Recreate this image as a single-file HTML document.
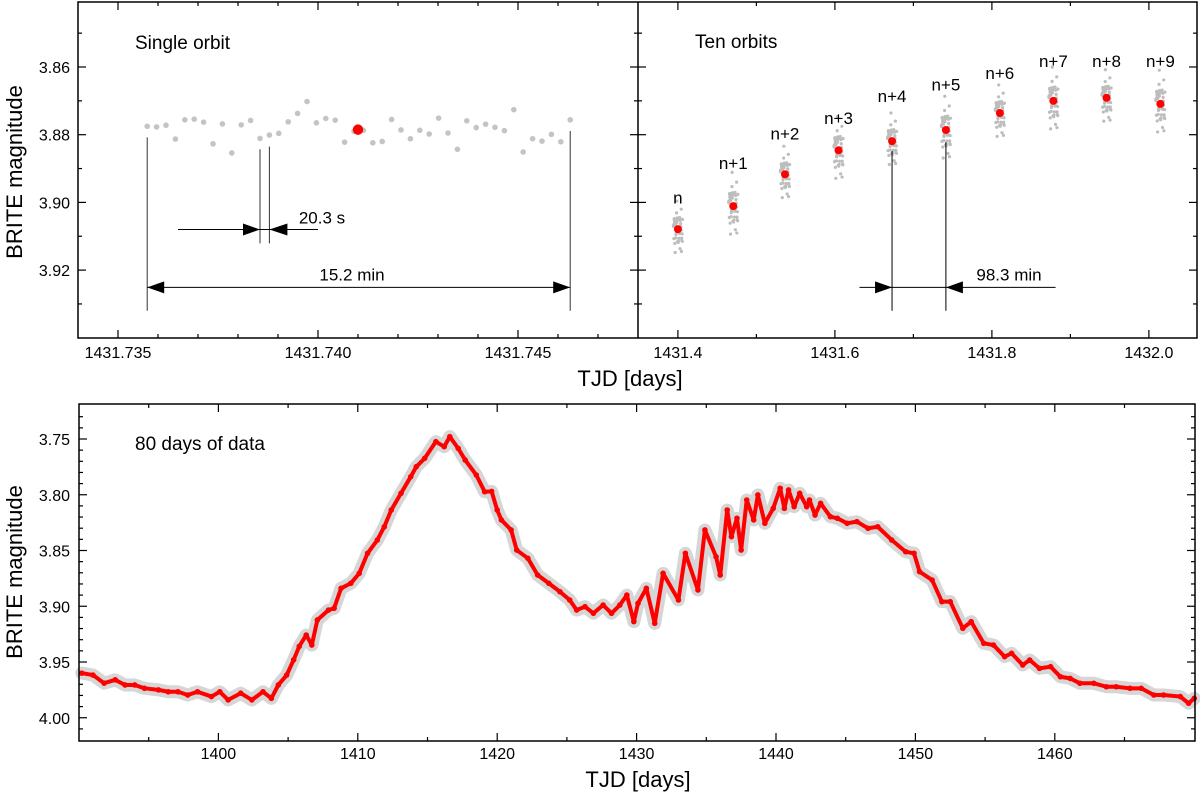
<!DOCTYPE html>
<html><head><meta charset="utf-8"><style>
html,body{margin:0;padding:0;background:#fff;}
svg{display:block;font-family:"Liberation Sans",Arial,sans-serif;}
</style></head><body>
<svg id="chart" width="1200" height="796" viewBox="0 0 1200 796" xmlns="http://www.w3.org/2000/svg">
<g id="layer"></g>
</svg>
<script>
// ---- single-orbit data (top-left) ----
const orbitT0 = 1431.73573;
const orbitStep = 0.000235;
const orbitMags = [3.8775,3.8777,3.8772,3.8813,3.8756,3.8754,3.8763,3.8827,3.8768,3.8854,3.8771,3.8758,3.8811,3.8801,3.8796,3.8762,3.8737,3.8702,3.8765,3.8752,3.8757,3.8822,3.8790,3.8787,3.8824,3.8820,3.8755,3.8786,3.8812,3.8787,3.8798,3.8751,3.8795,3.8843,3.8759,3.8779,3.8769,3.8778,3.8788,3.8726,3.8851,3.8812,3.8819,3.8799,3.8821,3.8756];
const orbitMeanT = 1431.7410;
const orbitMeanMag = 3.8785;
// ---- ten orbits (top-right) ----
const tenLabels = ["n","n+1","n+2","n+3","n+4","n+5","n+6","n+7","n+8","n+9"];
const tenTimes = [1431.4000,1431.4705,1431.5364,1431.6046,1431.6728,1431.7414,1431.8101,1431.8783,1431.9460,1432.0146];
const tenMeans = [3.9079,3.9011,3.8917,3.8846,3.8819,3.8786,3.8736,3.8700,3.8691,3.8709];
const tenLabelMags = [3.8985,3.8883,3.8797,3.8751,3.8685,3.8652,3.8618,3.8583,3.8583,3.8583];
// ---- 80 days (bottom) ----
const days = [1390.2,1391.0,1391.8,1392.6,1393.3,1394.0,1394.7,1395.7,1396.4,1397.1,1397.8,1398.5,1399.5,1400.1,1400.7,1401.6,1402.4,1403.2,1403.8,1404.3,1404.9,1405.4,1405.8,1406.3,1406.7,1407.1,1407.9,1408.3,1408.8,1409.5,1410.1,1410.7,1411.4,1411.9,1412.4,1413.1,1413.8,1414.2,1414.8,1415.6,1416.2,1416.6,1417.2,1417.7,1418.5,1419.1,1419.6,1420.0,1420.3,1421.0,1421.4,1422.2,1422.9,1423.7,1424.5,1425.2,1425.7,1426.3,1426.9,1427.6,1428.2,1428.8,1429.3,1429.8,1430.1,1430.7,1431.3,1431.9,1433.0,1433.5,1434.4,1434.9,1435.7,1436.0,1436.5,1436.8,1437.2,1437.5,1437.9,1438.4,1438.7,1439.2,1439.8,1440.3,1440.6,1440.9,1441.3,1441.7,1442.2,1442.4,1442.8,1443.2,1443.9,1444.4,1445.1,1445.8,1446.6,1447.3,1448.3,1449.3,1449.9,1450.3,1451.2,1451.9,1452.5,1453.4,1454.0,1454.9,1455.6,1456.4,1456.9,1457.7,1458.2,1458.9,1459.7,1460.4,1461.1,1461.8,1462.8,1463.7,1464.4,1465.4,1466.2,1467.1,1467.8,1469.0,1469.6,1470.0];
const mags = [3.960,3.9617,3.969,3.966,3.9706,3.9706,3.9736,3.975,3.9767,3.9767,3.9796,3.9767,3.981,3.9767,3.984,3.978,3.984,3.9767,3.9826,3.9706,3.9617,3.948,3.936,3.9258,3.9348,3.9123,3.9034,3.9018,3.8839,3.8794,3.8705,3.8525,3.8406,3.8287,3.8137,3.7987,3.7838,3.7748,3.7673,3.7524,3.7569,3.7479,3.7584,3.7688,3.7823,3.7973,3.797,3.8137,3.8226,3.8316,3.8496,3.857,3.872,3.8794,3.887,3.8944,3.9034,3.9004,3.9063,3.8989,3.9063,3.8989,3.890,3.9138,3.8974,3.8839,3.9153,3.8705,3.8944,3.8525,3.8854,3.8316,3.8556,3.872,3.8137,3.8376,3.8211,3.8496,3.8047,3.8226,3.8002,3.8256,3.8122,3.7942,3.8122,3.7957,3.8107,3.7987,3.8107,3.8047,3.8182,3.8077,3.8197,3.8211,3.8256,3.8241,3.8301,3.8287,3.8406,3.8511,3.8525,3.8690,3.8765,3.8959,3.8959,3.9198,3.9138,3.9332,3.9348,3.9452,3.9422,3.9527,3.9482,3.9557,3.9542,3.9632,3.9647,3.9691,3.9691,3.9722,3.9722,3.9736,3.9736,3.9796,3.9796,3.981,3.987,3.9826];
const topYTicks = ["3.86","3.88","3.90","3.92"];
const tlXTicks = ["1431.735","1431.740","1431.745"];
const trXTicks = ["1431.4","1431.6","1431.8","1432.0"];
const botYTicks = ["3.75","3.80","3.85","3.90","3.95","4.00"];
const botXTicks = ["1400","1410","1420","1430","1440","1450","1460"];

const NS="http://www.w3.org/2000/svg";
const root=document.getElementById('layer');
function mk(tag,attrs,parent,text){const e=document.createElementNS(NS,tag);for(const k in attrs)e.setAttribute(k,attrs[k]);if(text!==undefined)e.textContent=text;(parent||root).appendChild(e);return e;}

const xTL=t=>78+(t-1431.734)*40000;
const xTR=t=>677.9+(t-1431.4)*785;
const yT=m=>67+(m-3.86)*3385;
const xB=d=>79+(d-1390)*13.94;
const yB=m=>439+(m-3.75)*1115;
const TOP=2,TBOT=338,BTOP=404,BBOT=741,L=78,MID=638,R=1197,BR=1195;

function line(x1,y1,x2,y2,w,parent,col){return mk('line',{x1,y1,x2,y2,stroke:col||'#000','stroke-width':w||1},parent);}

const gTL=mk('g',{});


const gTR=mk('g',{});


const gB=mk('g',{});



for(let i=0;i<=9;i++){
  const m=3.84+i*0.01; const y=yT(m); if(y<TOP+2||y>TBOT-2) continue;
  const major=(Math.round(m*100)%2===0); const len=major?8:4;
  line(L,y,L+len,y,1.2,gTL); line(MID-len,y,MID+len,y,1.2,gTL); line(R-len,y,R,y,1.2,gTR);
}
topYTicks.forEach(s=>{const t=mk('text',{x:70,y:yT(+s)+6,'font-size':16,'text-anchor':'end'},gTL,s);

});
for(let i=0;i<=13;i++){const t=1431.734+i*0.001;const x=xTL(t);if(x<=L+1||x>=MID-1)continue;
 const major=(Math.round(t*1000)%5===0);const len=major?8:4;
 line(x,TBOT,x,TBOT-len,1.2,gTL);line(x,TOP,x,TOP+len,1.2,gTL);}
tlXTicks.forEach(s=>{const t=mk('text',{x:xTL(+s),y:358,'font-size':16,'text-anchor':'middle'},gTL,s);

});
for(let i=0;i<=7;i++){const t=1431.3+i*0.1;const x=xTR(t);if(x<=MID+1||x>=R-1)continue;
 const major=(Math.round(t*10)%2===0);const len=major?8:4;
 line(x,TBOT,x,TBOT-len,1.2,gTR);line(x,TOP,x,TOP+len,1.2,gTR);}
trXTicks.forEach(s=>{const t=mk('text',{x:xTR(+s),y:358,'font-size':16,'text-anchor':'middle'},gTR,s);

});

orbitMags.forEach((m,i)=>{const c=mk('circle',{cx:xTL(orbitT0+i*orbitStep),cy:yT(m),r:2.8,fill:'#c4c4c4'},gTL);

});
const mc=mk('circle',{cx:xTL(orbitMeanT),cy:yT(orbitMeanMag),r:5.2,fill:'#ff0000'},gTL);


const tA=orbitT0, tB=orbitT0+45*orbitStep, t1=orbitT0+12*orbitStep, t2=orbitT0+13*orbitStep;
line(xTL(tA),yT(3.8808),xTL(tA),yT(3.932),1,gTL,'#333');
line(xTL(tB),yT(3.8789),xTL(tB),yT(3.932),1,gTL,'#333');
line(xTL(t1),yT(3.8843),xTL(t1),yT(3.9121),1,gTL,'#333');
line(xTL(t2),yT(3.8835),xTL(t2),yT(3.9121),1,gTL,'#333');
const ya=yT(3.9251);
line(xTL(tA),ya,xTL(tB),ya,1,gTL);
mk('polygon',{points:`${xTL(tA)},${ya} ${xTL(tA)+17},${ya-6} ${xTL(tA)+17},${ya+6}`,fill:'#000'},gTL);
mk('polygon',{points:`${xTL(tB)},${ya} ${xTL(tB)-17},${ya-6} ${xTL(tB)-17},${ya+6}`,fill:'#000'},gTL);
const yb=yT(3.908);
line(178,yb,318,yb,1,gTL);
mk('polygon',{points:`${xTL(t1)},${yb} ${xTL(t1)-17},${yb-6} ${xTL(t1)-17},${yb+6}`,fill:'#000'},gTL);
mk('polygon',{points:`${xTL(t2)},${yb} ${xTL(t2)+18},${yb-6} ${xTL(t2)+18},${yb+6}`,fill:'#000'},gTL);
let tx=mk('text',{x:322,y:yT(3.9044)+6,'font-size':17,'text-anchor':'middle'},gTL,'20.3 s');


tx=mk('text',{x:352,y:yT(3.9213)+6,'font-size':17,'text-anchor':'middle'},gTL,'15.2 min');


tx=mk('text',{x:135,y:49,'font-size':19},gTL,'Single orbit');



tenTimes.forEach((tc,k)=>{
  orbitMags.forEach((m,i)=>{const c=mk('circle',{cx:xTR(tc+(orbitT0+i*orbitStep-orbitMeanT)*1.1),cy:yT(tenMeans[k]+(m-orbitMeanMag)*(k%2?1.2:1.0)),r:1.6,fill:'#bdbdbd'},gTR);
  
  });
});
tenTimes.forEach((tc,k)=>{
  const c=mk('circle',{cx:xTR(tc),cy:yT(tenMeans[k]),r:4,fill:'#ff0000'},gTR);
  
  
  const t=mk('text',{x:xTR(tc),y:yT(tenLabelMags[k])+6,'font-size':17,'text-anchor':'middle'},gTR,tenLabels[k]);
  
  
});
const x4=xTR(tenTimes[4]),x5=xTR(tenTimes[5]),yc=yT(3.9251);
line(x4,yT(3.8848),x4,yT(3.932),1,gTR);
line(x5,yT(3.8822),x5,yT(3.932),1,gTR);
line(859.5,yc,1055.6,yc,1,gTR);
mk('polygon',{points:`${x4},${yc} ${x4-17},${yc-6} ${x4-17},${yc+6}`,fill:'#000'},gTR);
mk('polygon',{points:`${x5},${yc} ${x5+17},${yc-6} ${x5+17},${yc+6}`,fill:'#000'},gTR);
tx=mk('text',{x:1009,y:yT(3.9213)+6,'font-size':17,'text-anchor':'middle'},gTR,'98.3 min');


tx=mk('text',{x:695,y:48,'font-size':19},gTR,'Ten orbits');



let fr=mk('rect',{x:L,y:TOP,width:R-L,height:TBOT-TOP,fill:'none',stroke:'#000','stroke-width':1.5});


line(MID,TOP,MID,TBOT,1.5);

tx=mk('text',{x:630,y:386,'font-size':22,'text-anchor':'middle'},null,'TJD [days]');


tx=mk('text',{x:0,y:0,'font-size':22,'text-anchor':'middle',transform:'translate(22,172) rotate(-90)'},null,'BRITE magnitude');


tx=mk('text',{x:638,y:787,'font-size':22,'text-anchor':'middle'},null,'TJD [days]');


tx=mk('text',{x:0,y:0,'font-size':22,'text-anchor':'middle',transform:'translate(22,572) rotate(-90)'},null,'BRITE magnitude');



for(let i=0;i<=31;i++){const m=3.72+i*0.01;const y=yB(m);if(y<BTOP+2||y>BBOT-2)continue;
 const major=(Math.round(m*100)%5===0);const len=major?8:4;
 line(79,y,79+len,y,1.2,gB);line(BR-len,y,BR,y,1.2,gB);}
botYTicks.forEach(s=>{const t=mk('text',{x:70,y:yB(+s)+6,'font-size':16,'text-anchor':'end'},gB,s);

});
for(let d=1395;d<1470;d+=5){const x=xB(d);const len=(d%10===0)?8:4;
 line(x,BBOT,x,BBOT-len,1.2,gB);line(x,BTOP,x,BTOP+len,1.2,gB);}
botXTicks.forEach(s=>{const t=mk('text',{x:xB(+s),y:759,'font-size':16,'text-anchor':'middle'},gB,s);

});
const pts=days.map((d,i)=>xB(d)+','+yB(mags[i])).join(' ');
const band=mk('polyline',{points:pts,fill:'none',stroke:'#d6d6d6','stroke-width':13,'stroke-linejoin':'round','stroke-linecap':'round'},gB);


const redl=mk('polyline',{points:pts,fill:'none',stroke:'#ff0000','stroke-width':4,'stroke-linejoin':'round','stroke-linecap':'round'},gB);


days.forEach((d,i)=>{const c=mk('circle',{cx:xB(d),cy:yB(mags[i]),r:2.8,fill:'#ff0000'},gB);

});
tx=mk('text',{x:135,y:450,'font-size':19},gB,'80 days of data');


fr=mk('rect',{x:79,y:BTOP,width:BR-79,height:BBOT-BTOP,fill:'none',stroke:'#000','stroke-width':1.5});


</script>
</body></html>
